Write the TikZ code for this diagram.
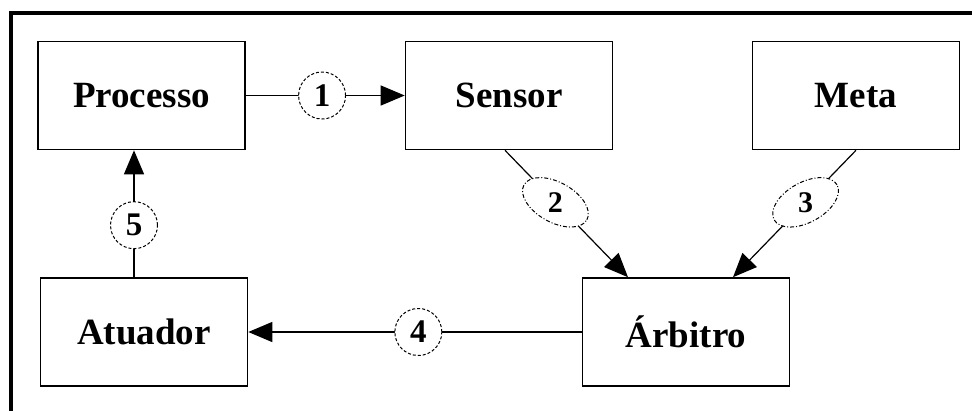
\documentclass[tikz,border=0pt]{standalone}
\usepackage{fontspec}
\setmainfont{Liberation Serif}
\usetikzlibrary{arrows.meta,shapes.geometric}
\tikzset{
  block/.style={draw=black, line width=1.6pt, fill=white, align=center,
    minimum width=207pt, minimum height=108pt, font=\fontsize{37}{40}\selectfont\bfseries},
  flow/.style={draw=black, line width=1.2pt, -{Triangle[length=24pt,width=20pt]}},
  tag/.style={circle, draw=black, line width=1pt, dash pattern=on 3pt off 2pt, fill=white,
    minimum size=47pt, inner sep=0pt, font=\fontsize{33}{34}\selectfont\bfseries},
  % ovais inclinados (2 e 3)
  oval/.style={ellipse, draw=black, line width=1pt, dash pattern=on 4pt off 2pt on 1pt off 2pt,
    fill=white, minimum width=72pt, minimum height=40pt, inner sep=0pt},
  num/.style={font=\fontsize{30}{32}\selectfont\bfseries, inner sep=0pt}
}
\begin{document}
\begin{tikzpicture}[x=1pt, y=-1pt]
    \useasboundingbox (0,0) rectangle (972,410);
    \draw[line width=4pt] (990,13) -- (11,13) -- (11,430);

    \node[block] (processo) at (141.5,95.5) {Processo};
    \node[block] (sensor) at (509,95.5) {Sensor};
    \node[block] (meta) at (856,95.5) {Meta};
    \node[block] (atuador) at (144,332) {Atuador};
    \node[block] (arbitro) at (686,332) {Árbitro};

    \draw[flow] (processo.east) -- node[tag, pos=0.48] (c1) {1} (sensor.west);
    \draw[flow] ([xshift=-4pt]sensor.south) -- node[oval, rotate=-29, pos=0.41] (o2) {} ([xshift=-58pt]arbitro.north);
    \node[num] at (o2) {2};
    \draw[flow] (meta.south) -- node[oval, rotate=29, pos=0.41] (o3) {} ([xshift=47pt]arbitro.north);
    \node[num] at (o3) {3};
    \draw[flow] (arbitro.west) -- node[tag, pos=0.49] (c4) {4} (atuador.east);
    \draw[flow] ([xshift=-10pt]atuador.north) -- node[tag, pos=0.41] (c5) {5} ([xshift=-10pt]atuador.north |- processo.south);
  \end{tikzpicture}
\end{document}
